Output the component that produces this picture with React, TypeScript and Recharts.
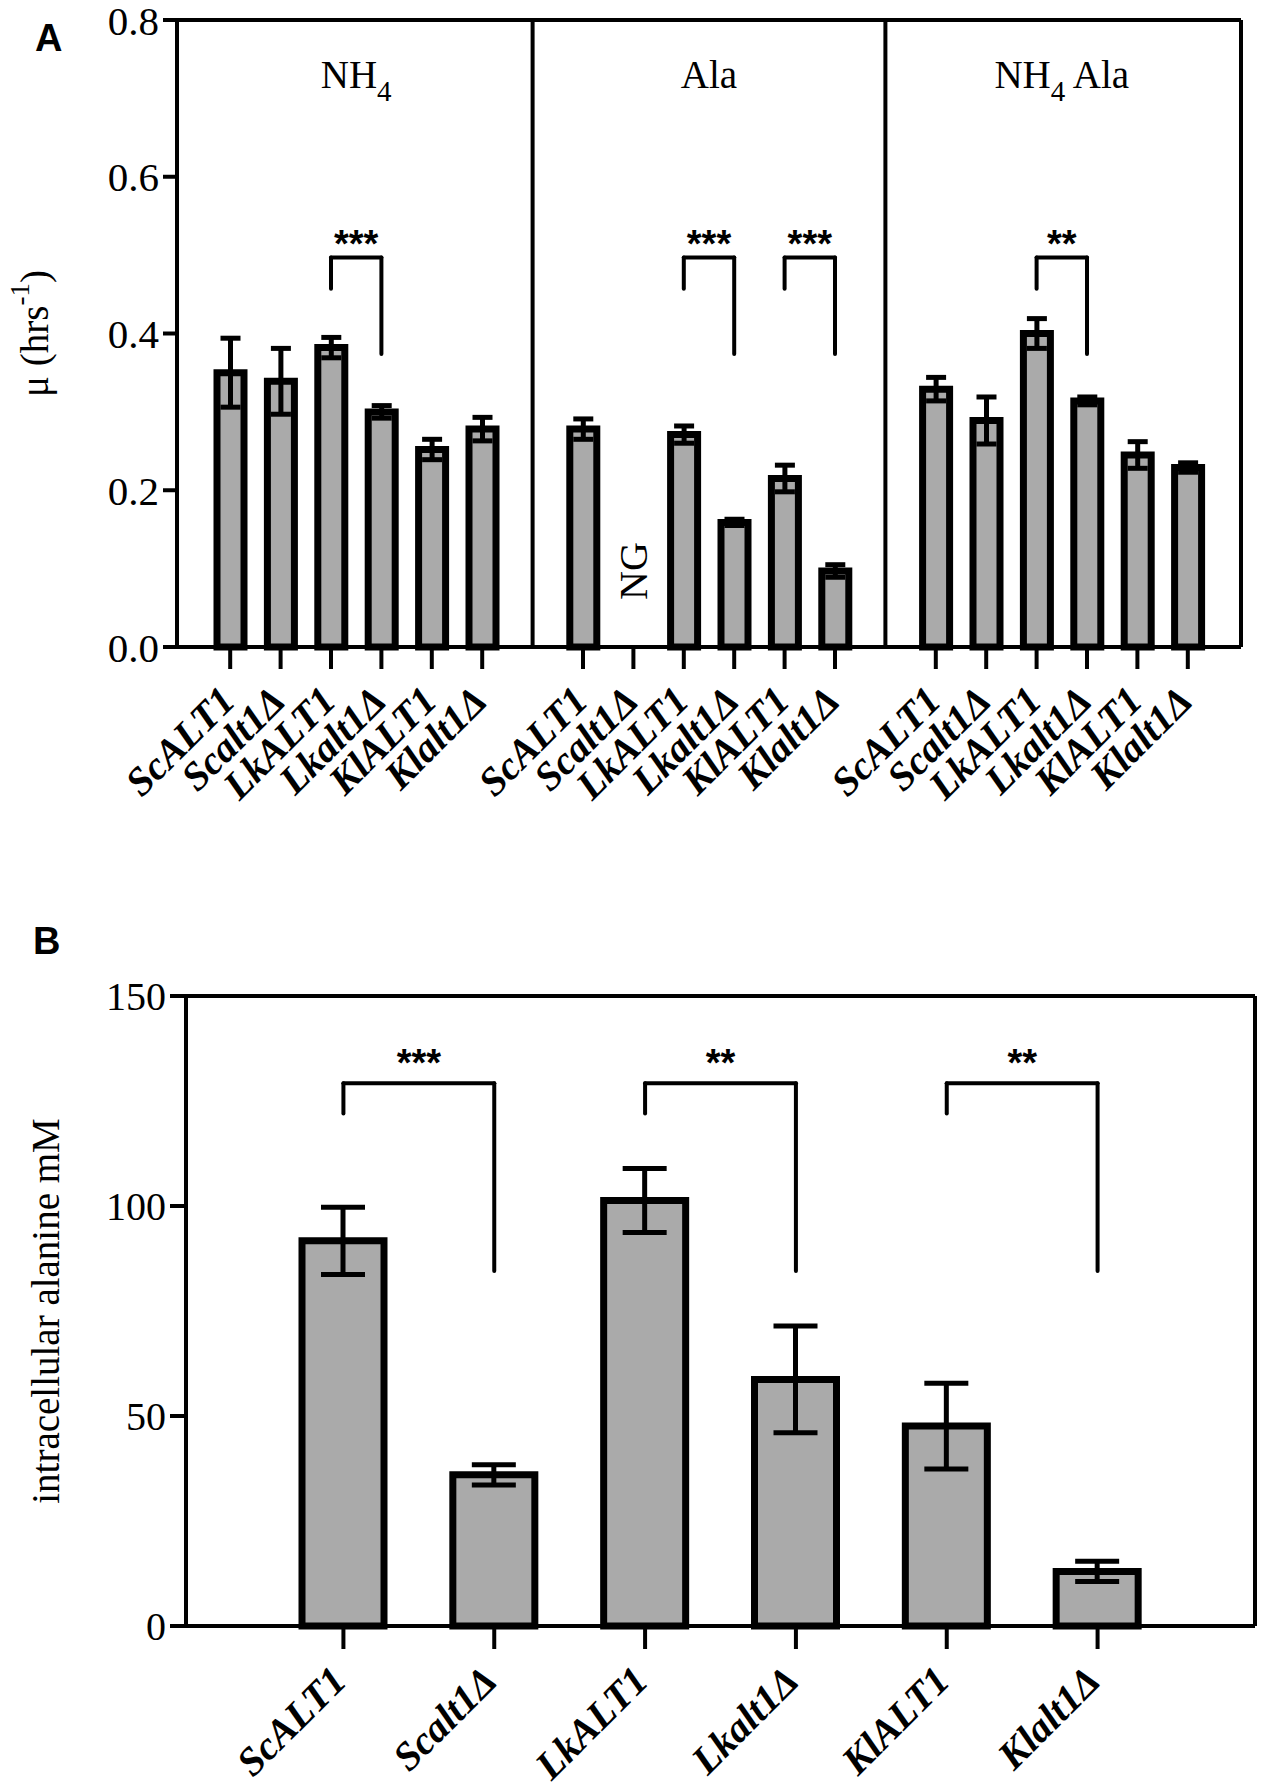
import React from 'react';
import { BarChart, Bar, XAxis, YAxis, ErrorBar, ReferenceLine, ReferenceDot, Label } from 'recharts';

const strains = ['ScALT1', 'Scalt1Δ', 'LkALT1', 'Lkalt1Δ', 'KlALT1', 'Klalt1Δ'];
const conditions = ['NH4', 'Ala', 'NH4 Ala'];

// panel A: growth rate, mean and error per condition
const muNH4 = [0.35, 0.339, 0.382, 0.3, 0.252, 0.278];
const muNH4Err = [0.044, 0.042, 0.013, 0.008, 0.013, 0.015];
const muAla = [0.278, null, 0.271, 0.159, 0.215, 0.097];
const muAlaErr = [0.013, null, 0.011, 0.004, 0.017, 0.008];
const muNH4Ala = [0.329, 0.289, 0.4, 0.314, 0.245, 0.229];
const muNH4AlaErr = [0.015, 0.03, 0.019, 0.005, 0.017, 0.006];
const muTicks = [0, 0.2, 0.4, 0.6, 0.8];

// panel B: intracellular alanine (mM)
const alanine = [91.7, 36, 101.3, 58.7, 47.6, 13];
const alanineErr = [8, 2.4, 7.6, 12.7, 10.2, 2.4];
const alaTicks = [0, 50, 100, 150];

// significance brackets
const sigA = [
  { cond: 0, from: 2, to: 3, stars: '***' },
  { cond: 1, from: 2, to: 3, stars: '***' },
  { cond: 1, from: 4, to: 5, stars: '***' },
  { cond: 2, from: 2, to: 3, stars: '**' },
];
const sigB = [
  { from: 0, to: 1, stars: '***' },
  { from: 2, to: 3, stars: '**' },
  { from: 4, to: 5, stars: '**' },
];

const SERIF = '"Liberation Serif", "Times New Roman", serif';
const SANS = '"Liberation Sans", Arial, sans-serif';
const axisStyle = { stroke: '#000', strokeWidth: 4 };

const means = [muNH4, muAla, muNH4Ala];
const errs = [muNH4Err, muAlaErr, muNH4AlaErr];
const idA = (c: number, i: number) => `${c}|${strains[i]}`;

const dataA: any[] = [];
conditions.forEach((_, c) => {
  strains.forEach((s, i) => {
    dataA.push({ id: idA(c, i), mu: means[c][i], err: errs[c][i] ?? undefined });
  });
  if (c < conditions.length - 1) dataA.push({ id: `gap${c}` });
});

const dataB = strains.map((s, i) => ({ id: s, value: alanine[i], err: alanineErr[i] }));

const StrainTick = (props: any) => {
  const { x, y, payload, tickLen, labelDx, labelDy } = props;
  const v = String(payload.value);
  if (v.startsWith('gap')) return null;
  const name = v.includes('|') ? v.split('|')[1] : v;
  const tx = x + labelDx;
  const ty = y + labelDy;
  return (
    <g>
      <line x1={x} y1={y} x2={x} y2={y + tickLen} stroke="#000" strokeWidth={4} />
      <text
        x={tx}
        y={ty}
        transform={`rotate(-45 ${tx} ${ty})`}
        textAnchor="end"
        fontFamily={SERIF}
        fontWeight="bold"
        fontStyle="italic"
        fontSize={40}
        fill="#000"
      >
        {name}
      </text>
    </g>
  );
};

const starsLabel = (stars: string) => (props: any) => {
  const vb = props.viewBox || {};
  return (
    <text x={vb.x + vb.width / 2} y={vb.y + 22} textAnchor="middle" fontFamily={SANS} fontWeight="bold" fontSize={38} fill="#000">
      {stars}
    </text>
  );
};

const titleLabel = (title: string) => (props: any) => {
  const vb = props.viewBox || {};
  const parts = title.split('4');
  return (
    <text x={vb.x + vb.width / 2} y={vb.y} textAnchor="middle" fontFamily={SERIF} fontSize={39} fill="#000">
      {parts.length > 1 ? (
        <>
          <tspan>{parts[0]}</tspan>
          <tspan dy={13} fontSize={29}>4</tspan>
          <tspan dy={-13}>{parts[1]}</tspan>
        </>
      ) : (
        title
      )}
    </text>
  );
};

const MuTitle = (props: any) => {
  const vb = props.viewBox || {};
  const cx = vb.x + 34;
  const cy = vb.y + vb.height / 2;
  return (
    <text x={cx} y={cy} transform={`rotate(-90 ${cx} ${cy})`} textAnchor="middle" dominantBaseline="central" fontFamily={SERIF} fontSize={39} fill="#000">
      <tspan>μ (hrs</tspan>
      <tspan dy={-14} fontSize={27}>-1</tspan>
      <tspan dy={14}>)</tspan>
    </text>
  );
};

const AlaTitle = (props: any) => {
  const vb = props.viewBox || {};
  const cx = vb.x + 45;
  const cy = vb.y + vb.height / 2;
  return (
    <text x={cx} y={cy} transform={`rotate(-90 ${cx} ${cy})`} textAnchor="middle" dominantBaseline="central" fontFamily={SERIF} fontSize={39} fill="#000">
      intracellular alanine mM
    </text>
  );
};

function brackets(
  pairs: { a: string; b: string; stars: string }[],
  top: number,
  leftEnd: number,
  rightEnd: number,
  starLevel: number
) {
  const line = { stroke: '#000', strokeWidth: 4, strokeLinecap: 'round' as const };
  return pairs.flatMap((p, k) => [
    <ReferenceLine key={`t${k}`} segment={[{ x: p.a, y: top }, { x: p.b, y: top }]} {...line} />,
    <ReferenceLine key={`l${k}`} segment={[{ x: p.a, y: top }, { x: p.a, y: leftEnd }]} {...line} />,
    <ReferenceLine key={`r${k}`} segment={[{ x: p.b, y: top }, { x: p.b, y: rightEnd }]} {...line} />,
    <ReferenceLine
      key={`s${k}`}
      segment={[{ x: p.a, y: starLevel }, { x: p.b, y: starLevel }]}
      stroke="none"
      label={starsLabel(p.stars)}
    />,
  ]);
}

const NgMark = (props: any) => {
  const { cx, cy } = props;
  return (
    <text x={cx} y={cy} transform={`rotate(-90 ${cx} ${cy})`} textAnchor="middle" dominantBaseline="central" fontFamily={SERIF} fontSize={40} fill="#000">
      NG
    </text>
  );
};

export default function App() {
  const pairsA = sigA.map((s) => ({ a: idA(s.cond, s.from), b: idA(s.cond, s.to), stars: s.stars }));
  const pairsB = sigB.map((s) => ({ a: strains[s.from], b: strains[s.to], stars: s.stars }));
  return (
    <div style={{ position: 'absolute', left: 0, top: 0, width: 1267, height: 1788, background: '#fff' }}>
      <div style={{ position: 'absolute', left: 0, top: 0 }}>
        <BarChart width={1267} height={880} data={dataA} margin={{ top: 19, right: 25, bottom: 0, left: 0 }} barSize={27}>
          <XAxis
            dataKey="id"
            height={233}
            padding={{ left: 28, right: 28 }}
            interval={0}
            tickSize={0}
            tickMargin={0}
            tickLine={false}
            axisLine={axisStyle}
            tick={<StrainTick tickLen={22} labelDx={7} labelDy={56} />}
          />
          <XAxis xAxisId="top" dataKey="id" orientation="top" height={1} padding={{ left: 28, right: 28 }} tick={false} tickLine={false} axisLine={axisStyle} />
          <YAxis
            width={177}
            domain={[0, 0.8]}
            ticks={muTicks}
            interval={0}
            tickFormatter={(v: number) => v.toFixed(1)}
            tickSize={14}
            tickMargin={4}
            tickLine={axisStyle}
            axisLine={axisStyle}
            tick={{ fontSize: 41, fontFamily: SERIF, fill: '#000' }}
            label={<Label content={MuTitle} />}
          />
          <YAxis yAxisId="right" orientation="right" width={1} domain={[0, 0.8]} tick={false} tickLine={false} axisLine={axisStyle} />
          <ReferenceLine x="gap0" stroke="#000" strokeWidth={4} />
          <ReferenceLine x="gap1" stroke="#000" strokeWidth={4} />
          {conditions.map((c, ci) => (
            <ReferenceLine
              key={`title${ci}`}
              segment={[{ x: idA(ci, 2), y: 0.713 }, { x: idA(ci, 3), y: 0.713 }]}
              stroke="none"
              label={titleLabel(c)}
            />
          ))}
          <Bar dataKey="mu" fill="#aaaaaa" stroke="#000" strokeWidth={7} isAnimationActive={false}>
            <ErrorBar dataKey="err" direction="y" width={10} strokeWidth={5} stroke="#000" />
          </Bar>
          {brackets(pairsA, 0.497, 0.457, 0.374, 0.526)}
          <ReferenceDot x={idA(1, 1)} y={0.097} r={0} shape={NgMark} />
        </BarChart>
      </div>
      <div style={{ position: 'absolute', left: 0, top: 880 }}>
        <BarChart width={1267} height={908} data={dataB} margin={{ top: 115, right: 11, bottom: 0, left: 0 }} barSize={82}>
          <XAxis
            dataKey="id"
            height={162}
            padding={{ left: 82, right: 82 }}
            interval={0}
            tickSize={0}
            tickMargin={0}
            tickLine={false}
            axisLine={axisStyle}
            tick={<StrainTick tickLen={23} labelDx={5} labelDy={57} />}
          />
          <XAxis xAxisId="top" dataKey="id" orientation="top" height={1} padding={{ left: 82, right: 82 }} tick={false} tickLine={false} axisLine={axisStyle} />
          <YAxis
            width={186}
            domain={[0, 150]}
            ticks={alaTicks}
            interval={0}
            tickSize={16}
            tickMargin={4}
            tickLine={axisStyle}
            axisLine={axisStyle}
            tick={{ fontSize: 40, fontFamily: SERIF, fill: '#000' }}
            label={<Label content={AlaTitle} />}
          />
          <YAxis yAxisId="right" orientation="right" width={1} domain={[0, 150]} tick={false} tickLine={false} axisLine={axisStyle} />
          <Bar dataKey="value" fill="#aaaaaa" stroke="#000" strokeWidth={7} isAnimationActive={false}>
            <ErrorBar dataKey="err" direction="y" width={22} strokeWidth={5} stroke="#000" />
          </Bar>
          {brackets(pairsB, 129.2, 122, 84.5, 136.3)}
        </BarChart>
      </div>
      <svg width={1267} height={1788} style={{ position: 'absolute', left: 0, top: 0, pointerEvents: 'none' }}>
        <text x={35} y={51} fontFamily={SANS} fontWeight="bold" fontSize={38} fill="#000">A</text>
        <text x={33} y={954} fontFamily={SANS} fontWeight="bold" fontSize={38} fill="#000">B</text>
      </svg>
    </div>
  );
}
